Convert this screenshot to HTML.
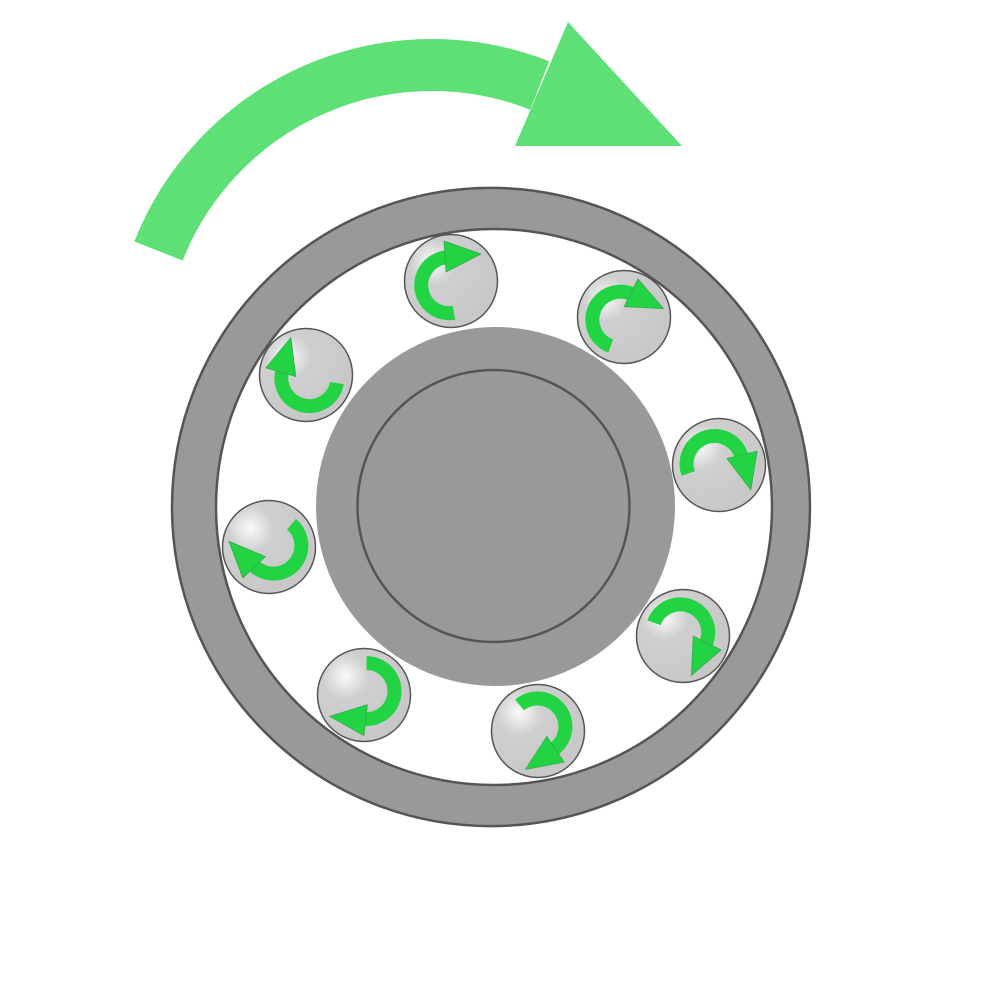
<!DOCTYPE html>
<html><head><meta charset="utf-8"><style>html,body{margin:0;padding:0;background:#fff}svg{display:block}</style></head>
<body>
<svg width="1000" height="1000" viewBox="0 0 1000 1000">
<defs>
<radialGradient id="bg" cx="0.3" cy="0.3" r="0.7">
<stop offset="0" stop-color="#fafafa"/><stop offset="0.35" stop-color="#cfcfcf"/><stop offset="1" stop-color="#c8c8c8"/>
</radialGradient>
<g id="spin">
<path d="M 3 31.8 A 28 28 0 1 1 -4 -23.7" fill="none" stroke="#22d444" stroke-width="14"/>
<polygon points="-7,-40 30,-27 -5,-9" fill="#22d444" stroke="#3aa84e" stroke-width="0.8"/>
</g>
</defs>
<path d="M 158.5 251 A 294 294 0 0 1 539.7 85.5" fill="none" stroke="#5ee077" stroke-width="52"/>
<polygon points="515,146 568,22 682,146" fill="#5ee077"/>
<path fill-rule="evenodd" fill="#999" stroke="#555" stroke-width="2.5"
 d="M 172 507 A 319 319 0 1 0 810 507 A 319 319 0 1 0 172 507 Z M 216 507 A 278 278 0 1 0 772 507 A 278 278 0 1 0 216 507 Z"/>
<circle cx="495.5" cy="506.5" r="179.5" fill="#999"/>
<circle cx="493.5" cy="506" r="136" fill="#999" stroke="#555" stroke-width="2.5"/>
<g id="balls"></g>
</svg>
<script>
const ballX=[451,624,719,683,538,364,269,306];
const ballY=[281,317,465,636,731,695,547,375];
const ballRot=[0,30,80,120,150,190,230,290];
const ns='http://www.w3.org/2000/svg';
const g=document.getElementById('balls');
for(let i=0;i<ballX.length;i++){
 const c=document.createElementNS(ns,'circle');
 c.setAttribute('cx',ballX[i]);c.setAttribute('cy',ballY[i]);c.setAttribute('r',46.5);
 c.setAttribute('fill','url(#bg)');c.setAttribute('stroke','#555');c.setAttribute('stroke-width','1.5');
 
 
 g.appendChild(c);
 const u=document.createElementNS(ns,'use');
 u.setAttribute('href','#spin');
 u.setAttribute('transform','translate('+ballX[i]+','+ballY[i]+') rotate('+ballRot[i]+')');
 
 
 g.appendChild(u);
}
</script>
</body></html>
